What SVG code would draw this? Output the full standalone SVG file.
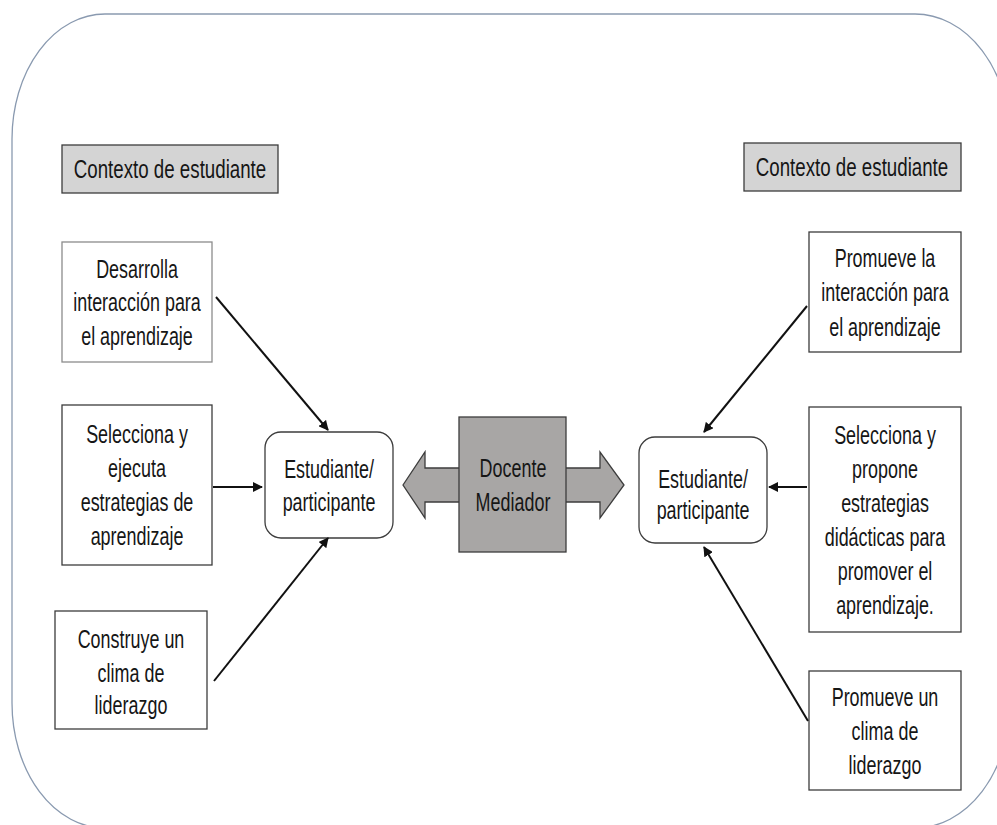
<svg xmlns="http://www.w3.org/2000/svg" width="997" height="825" viewBox="0 0 997 825">
  <style>
    .frame { fill: none; stroke: #8a9ab0; stroke-width: 1.3; }
    .hdr { fill: #d4d4d4; stroke: #3c3c3c; stroke-width: 1.3; }
    .box { fill: #ffffff; stroke: #3c3c3c; stroke-width: 1.3; }
    .box-light { fill: #ffffff; stroke: #8c8c8c; stroke-width: 1.3; }
    .round { fill: #ffffff; stroke: #3c3c3c; stroke-width: 1.3; }
    .mediator { fill: #a8a6a5; stroke: #3c3c3c; stroke-width: 1.3; }
    .t { font-family: "Liberation Sans", Arial, sans-serif; font-size: 26px; fill: #161616; text-anchor: middle; }
    .th { font-family: "Liberation Sans", Arial, sans-serif; font-size: 26px; fill: #161616; text-anchor: middle; }
    .link { fill: none; stroke: #111111; stroke-width: 2; marker-end: url(#head); }
  </style>
  <defs>
    <marker id="head" viewBox="0 0 10 10" refX="9" refY="5" markerWidth="5" markerHeight="5" orient="auto" markerUnits="strokeWidth">
      <path d="M0,0 L10,5 L0,10 Z" fill="#111111"/>
    </marker>
  </defs>

  <rect width="997" height="825" fill="#ffffff"/>

  <!-- outer rounded frame -->
  <path class="frame" d="M 105 14 H 915 A 95 125 0 0 1 1010 139 V 703 A 95 125 0 0 1 915 828 H 105 A 93 125 0 0 1 12 703 V 139 A 93 125 0 0 1 105 14 Z"/>

  <!-- left side -->
  <g id="ctx-left">
    <rect class="hdr" x="62" y="145" width="216" height="48"/>
    <text class="th" transform="translate(170 178) scale(0.72 1)">Contexto de estudiante</text>
  </g>

  <g id="left-interaccion">
    <rect class="box-light" x="62" y="242" width="150" height="120"/>
    <g transform="translate(137 0) scale(0.69 1)">
      <text class="t" x="0" y="278">Desarrolla</text>
      <text class="t" x="0" y="311">interacción para</text>
      <text class="t" x="0" y="345">el aprendizaje</text>
    </g>
  </g>

  <g id="left-estrategias">
    <rect class="box" x="62" y="405" width="150" height="160"/>
    <g transform="translate(137 0) scale(0.69 1)">
      <text class="t" x="0" y="443">Selecciona y</text>
      <text class="t" x="0" y="477">ejecuta</text>
      <text class="t" x="0" y="511">estrategias de</text>
      <text class="t" x="0" y="545">aprendizaje</text>
    </g>
  </g>

  <g id="left-clima">
    <rect class="box" x="55" y="611" width="152" height="118"/>
    <g transform="translate(131 0) scale(0.69 1)">
      <text class="t" x="0" y="648">Construye un</text>
      <text class="t" x="0" y="682">clima de</text>
      <text class="t" x="0" y="714">liderazgo</text>
    </g>
  </g>

  <g id="left-estudiante">
    <rect class="round" x="265" y="432" width="128" height="106" rx="16" ry="16"/>
    <g transform="translate(329 0) scale(0.69 1)">
      <text class="t" x="0" y="478">Estudiante/</text>
      <text class="t" x="0" y="511">participante</text>
    </g>
  </g>

  <!-- centre: mediator with two-way arrow -->
  <g id="docente">
    <path class="mediator" d="M 403 485 L 425 452 L 425 468 L 600 468 L 600 452 L 624 485 L 600 518 L 600 502 L 425 502 L 425 518 Z"/>
    <rect class="mediator" x="459" y="417" width="107" height="135"/>
    <g transform="translate(513 0) scale(0.69 1)">
      <text class="t" x="0" y="477">Docente</text>
      <text class="t" x="0" y="511">Mediador</text>
    </g>
  </g>

  <!-- right side -->
  <g id="ctx-right">
    <rect class="hdr" x="744" y="143" width="217" height="48"/>
    <text class="th" transform="translate(852 176) scale(0.72 1)">Contexto de estudiante</text>
  </g>

  <g id="right-interaccion">
    <rect class="box" x="809" y="232" width="152" height="120"/>
    <g transform="translate(885 0) scale(0.69 1)">
      <text class="t" x="0" y="267">Promueve la</text>
      <text class="t" x="0" y="301">interacción para</text>
      <text class="t" x="0" y="336">el aprendizaje</text>
    </g>
  </g>

  <g id="right-estrategias">
    <rect class="box" x="809" y="407" width="152" height="225"/>
    <g transform="translate(885 0) scale(0.69 1)">
      <text class="t" x="0" y="444">Selecciona y</text>
      <text class="t" x="0" y="478">propone</text>
      <text class="t" x="0" y="512">estrategias</text>
      <text class="t" x="0" y="546">didácticas para</text>
      <text class="t" x="0" y="580">promover el</text>
      <text class="t" x="0" y="614">aprendizaje.</text>
    </g>
  </g>

  <g id="right-clima">
    <rect class="box" x="809" y="671" width="152" height="119"/>
    <g transform="translate(885 0) scale(0.69 1)">
      <text class="t" x="0" y="706">Promueve un</text>
      <text class="t" x="0" y="740">clima de</text>
      <text class="t" x="0" y="774">liderazgo</text>
    </g>
  </g>

  <g id="right-estudiante">
    <rect class="round" x="639" y="437" width="128" height="106" rx="16" ry="16"/>
    <g transform="translate(703 0) scale(0.69 1)">
      <text class="t" x="0" y="488">Estudiante/</text>
      <text class="t" x="0" y="519">participante</text>
    </g>
  </g>

  <!-- connectors -->
  <g id="connectors">
    <line class="link" x1="216" y1="297" x2="328" y2="430"/>
    <line class="link" x1="213" y1="487" x2="262" y2="487"/>
    <line class="link" x1="214" y1="681" x2="328" y2="538"/>
    <line class="link" x1="807" y1="306" x2="704" y2="432"/>
    <line class="link" x1="807" y1="487" x2="769" y2="487"/>
    <line class="link" x1="808" y1="721" x2="704" y2="547"/>
  </g>
</svg>
